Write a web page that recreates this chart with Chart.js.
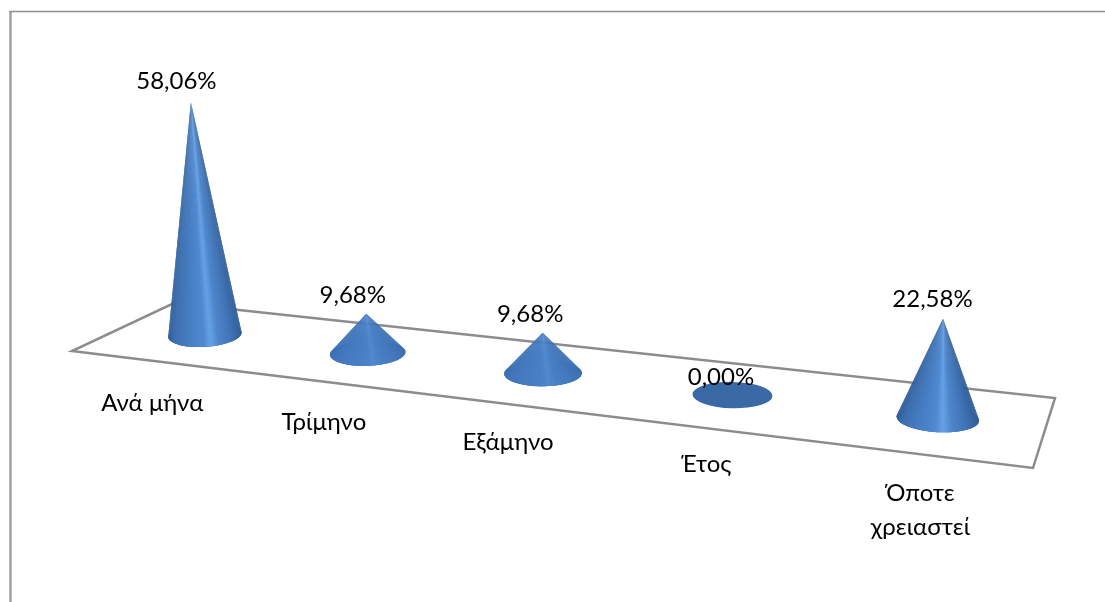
<!DOCTYPE html>
<html lang="el">
<head>
<meta charset="utf-8">
<title>Συχνότητα</title>
<style>
    html, body { margin: 0; padding: 0; background: #fff; }
    canvas { display: block; }
</style>
<script src="https://cdn.jsdelivr.net/npm/chart.js@4/dist/chart.umd.min.js"></script>
</head>
<body>
<canvas id="coneChart" width="1105" height="602"></canvas>
<script>
// Chart values
const categories = ['Ανά μήνα', 'Τρίμηνο', 'Εξάμηνο', 'Έτος', ['Όποτε', 'χρειαστεί']];
const shareValues = [58.06, 9.68, 9.68, 0, 22.58];

// Corners of the floor plane on the canvas: back left, back right, front right, front left
const floorCorners = [[174, 303], [1055, 398], [1033, 468], [72, 351]];
const labelFont = '24px Lato, "Open Sans", sans-serif';

// Cone surface shading from the left silhouette to the right one
const shadeStops = [
    [0, [46, 90, 148]], [0.08, [60, 110, 174]], [0.25, [70, 124, 192]], [0.48, [82, 140, 212]],
    [0.57, [108, 168, 238]], [0.68, [80, 136, 204]], [0.86, [64, 114, 180]], [1, [46, 88, 144]]
];
const flatShade = [70, 124, 194];

// Projective mapping of the unit square onto the floor
function buildFloorMap(q) {
    const [x0, y0] = q[0], [x1, y1] = q[1], [x2, y2] = q[2], [x3, y3] = q[3];
    const dx1 = x1 - x2, dx2 = x3 - x2, sx = x0 - x1 + x2 - x3;
    const dy1 = y1 - y2, dy2 = y3 - y2, sy = y0 - y1 + y2 - y3;
    const den = dx1 * dy2 - dx2 * dy1;
    const g = (sx * dy2 - dx2 * sy) / den;
    const h = (dx1 * sy - sx * dy1) / den;
    const a = x1 - x0 + g * x1, b = x3 - x0 + h * x3;
    const d = y1 - y0 + g * y1, e = y3 - y0 + h * y3;
    const depth = (u, v) => 1 / (g * u + h * v + 1);
    return {
        point: (u, v) => {
            const w = depth(u, v);
            return [(a * u + b * v + x0) * w, (d * u + e * v + y0) * w];
        },
        // local size relative to the middle of the floor
        scale: (u, v) => depth(u, v) / depth(0.5, 0.5)
    };
}
const floorMap = buildFloorMap(floorCorners);

function shadeAt(t, flatten) {
    let color = shadeStops[shadeStops.length - 1][1];
    for (let i = 1; i < shadeStops.length; i++) {
        if (t <= shadeStops[i][0]) {
            const [t0, c0] = shadeStops[i - 1];
            const [t1, c1] = shadeStops[i];
            const k = (t - t0) / (t1 - t0);
            color = c0.map((c, n) => c + (c1[n] - c) * k);
            break;
        }
    }
    const mix = color.map((c, n) => Math.round(c + (flatShade[n] - c) * flatten));
    return `rgb(${mix[0]}, ${mix[1]}, ${mix[2]})`;
}

function drawCone(ctx, cx, cy, rx, ry, tilt, apexX, apexY) {
    ctx.save();
    ctx.translate(cx, cy);
    ctx.rotate(tilt);

    // base disc, this is all that is left of a zero value
    ctx.fillStyle = '#3a6aa6';
    ctx.beginPath();
    ctx.ellipse(0, 0, rx, ry, 0, 0, Math.PI * 2);
    ctx.fill();

    // tip in the rotated frame
    const dx = apexX - cx, dy = apexY - cy;
    const tipX = dx * Math.cos(tilt) + dy * Math.sin(tilt);
    const tipY = dy * Math.cos(tilt) - dx * Math.sin(tilt);
    const px = tipX / rx, py = tipY / ry;
    const dist = Math.hypot(px, py);
    if (dist > 1) {
        // visible arc between the two tangents from the tip
        const mid = Math.atan2(py, px);
        const spread = Math.acos(1 / dist);
        const from = mid + spread;
        const to = mid + Math.PI * 2 - spread;
        const steps = 90;
        // short cones have a weaker highlight
        const flatten = Math.hypot(tipX, tipY) < rx * 1.5 ? 0.7 : 0.15;
        for (let i = 0; i < steps; i++) {
            const a0 = from + (to - from) * i / steps;
            // each wedge runs under the next one to hide the seams
            const a1 = from + (to - from) * Math.min(i + 2, steps) / steps;
            const mid0 = from + (to - from) * (i + 0.5) / steps;
            ctx.fillStyle = shadeAt((Math.cos(mid0) + 1) / 2, flatten);
            ctx.beginPath();
            ctx.moveTo(tipX, tipY);
            ctx.ellipse(0, 0, rx, ry, 0, a0, a1);
            ctx.closePath();
            ctx.fill();
        }
    }
    ctx.restore();
}

// Positions every cone from its bar element, so values still go through the scales
function conePlacement(chart, bar) {
    const area = chart.chartArea;
    const u = (bar.x - area.left) / (area.right - area.left);
    const [floorX, cy] = floorMap.point(u, 0.5);
    const cx = floorX + 2.5;
    const size = floorMap.scale(u, 0.5);
    const height = (bar.base - bar.y) * Math.pow(size, 0.65);
    // verticals lean slightly towards the middle of the view
    const apexX = cx + height * (cx - 600) / 6553;
    const apexY = cy - height;
    return { u, cx, cy, size, height, apexX, apexY };
}

const conePlugin = {
    id: 'conePlugin',
    beforeDatasetsDraw(chart) {
        const ctx = chart.ctx;
        ctx.save();
        // outer frame
        ctx.strokeStyle = '#a0a0a0';
        ctx.lineWidth = 2.5;
        ctx.beginPath();
        ctx.moveTo(10.5, chart.height);
        ctx.lineTo(10.5, 11);
        ctx.stroke();
        ctx.strokeStyle = '#909090';
        ctx.lineWidth = 1.5;
        ctx.beginPath();
        ctx.moveTo(9.5, 11.5);
        ctx.lineTo(chart.width, 11.5);
        ctx.stroke();
        // floor
        ctx.strokeStyle = '#8c8c8c';
        ctx.lineWidth = 2.5;
        ctx.lineJoin = 'miter';
        ctx.beginPath();
        floorCorners.forEach((c, i) => i ? ctx.lineTo(c[0], c[1]) : ctx.moveTo(c[0], c[1]));
        ctx.closePath();
        ctx.stroke();
        ctx.restore();
    },
    afterDatasetsDraw(chart) {
        const ctx = chart.ctx;
        const bars = chart.getDatasetMeta(0).data;
        ctx.save();
        bars.forEach(bar => {
            const p = conePlacement(chart, bar);
            const rx = bar.width / 2 * Math.pow(p.size, 0.75);
            // base ellipses turn a little with their position across the floor
            const tilt = (p.cx - 600) * 0.000166;
            drawCone(ctx, p.cx, p.cy, rx, rx * 0.33, tilt, p.apexX, p.apexY);
        });

        ctx.fillStyle = '#000';
        ctx.font = labelFont;
        ctx.textAlign = 'center';
        ctx.textBaseline = 'middle';
        bars.forEach((bar, i) => {
            const p = conePlacement(chart, bar);
            // value above the tip
            const valueText = shareValues[i].toFixed(2).replace('.', ',') + '%';
            ctx.fillText(valueText, p.apexX - 15 + 5 * p.u, p.apexY - 18 - p.height * 0.015);
            // category below the floor, one or two lines
            const lines = [].concat(categories[i]);
            const labelX = p.cx - 57 + 44 * p.u;
            lines.forEach((line, n) => {
                ctx.fillText(line, labelX, p.cy + (lines.length > 1 ? 75 : 69) + n * 34);
            });
        });
        ctx.restore();
    }
};

new Chart(document.getElementById('coneChart'), {
    type: 'bar',
    data: {
        labels: categories,
        datasets: [{
            label: 'Ποσοστό',
            data: shareValues,
            backgroundColor: 'rgba(0, 0, 0, 0)',
            categoryPercentage: 1,
            barPercentage: 0.395
        }]
    },
    options: {
        responsive: false,
        animation: false,
        layout: { padding: { left: 72, right: 50, top: 60, bottom: 290 } },
        plugins: { legend: { display: false }, tooltip: { enabled: false } },
        scales: {
            x: { display: false },
            y: { display: false, min: 0, max: 60 }
        }
    },
    plugins: [conePlugin]
});
</script>
</body>
</html>
